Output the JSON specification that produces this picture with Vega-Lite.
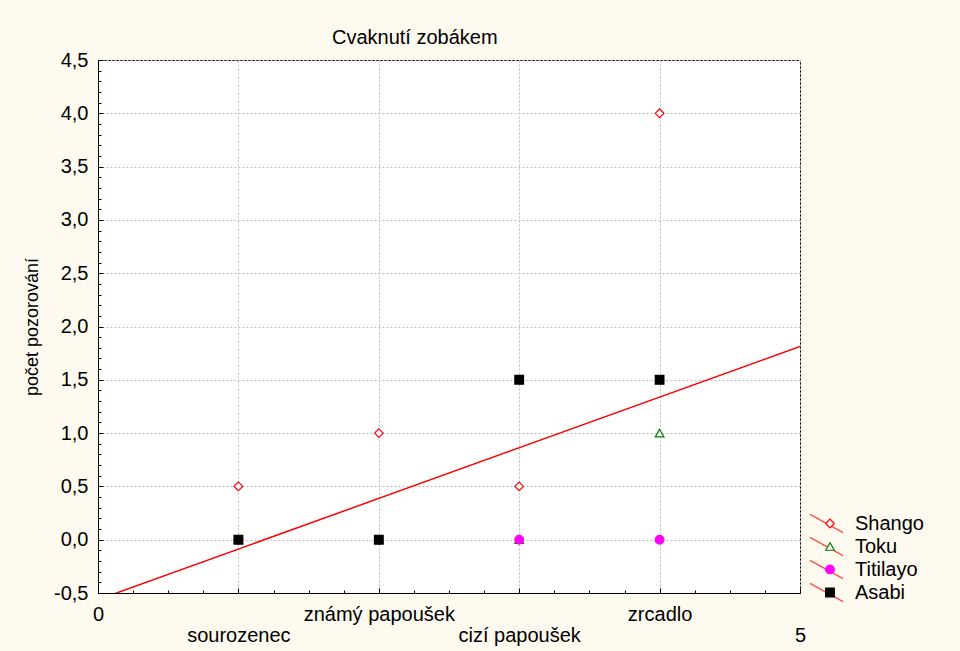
{
  "$schema": "https://vega.github.io/schema/vega-lite/v6.json",
  "width": 702,
  "height": 533,
  "autosize": {"type": "none"},
  "padding": {"left": 98, "top": 60, "right": 160, "bottom": 58},
  "background": "#fffaf0",
  "title": {
    "text": "Cvaknutí zobákem",
    "font": "Liberation Sans",
    "fontSize": 20,
    "fontWeight": "normal",
    "color": "#000000",
    "anchor": "start",
    "frame": "group",
    "dx": 234,
    "offset": 2
  },
  "config": {
    "font": "Liberation Sans",
    "view": {"stroke": "#000000", "strokeWidth": 1, "fill": "#ffffff"},
    "axis": {
      "domainColor": "#000000",
      "tickColor": "#000000",
      "labelColor": "#000000",
      "labelFont": "Liberation Sans",
      "labelFontSize": 20,
      "titleFont": "Liberation Sans",
      "titleFontSize": 18,
      "titleFontWeight": "normal",
      "titleColor": "#000000",
      "gridColor": "#bdbdbd",
      "gridDash": [2, 2],
      "labelOverlap": false,
      "labelFlush": false
    },
    "legend": {
      "labelFont": "Liberation Sans",
      "labelFontSize": 20,
      "labelColor": "#000000"
    }
  },
  "data": {
    "values": [
      {"poz": 1, "serie": "Shango", "pocet": 0.5},
      {"poz": 2, "serie": "Shango", "pocet": 1.0},
      {"poz": 3, "serie": "Shango", "pocet": 0.5},
      {"poz": 4, "serie": "Shango", "pocet": 4.0},
      {"poz": 1, "serie": "Toku", "pocet": 0},
      {"poz": 2, "serie": "Toku", "pocet": 0},
      {"poz": 3, "serie": "Toku", "pocet": 0},
      {"poz": 4, "serie": "Toku", "pocet": 1.0},
      {"poz": 1, "serie": "Titilayo", "pocet": 0},
      {"poz": 2, "serie": "Titilayo", "pocet": 0},
      {"poz": 3, "serie": "Titilayo", "pocet": 0},
      {"poz": 4, "serie": "Titilayo", "pocet": 0},
      {"poz": 1, "serie": "Asabi", "pocet": 0},
      {"poz": 2, "serie": "Asabi", "pocet": 0},
      {"poz": 3, "serie": "Asabi", "pocet": 1.5},
      {"poz": 4, "serie": "Asabi", "pocet": 1.5}
    ]
  },
  "encoding": {
    "x": {
      "field": "poz",
      "type": "quantitative",
      "scale": {"domain": [0, 5], "nice": false, "zero": false},
      "axis": {
        "title": null,
        "values": [0, 0.25, 0.5, 0.75, 1, 1.25, 1.5, 1.75, 2, 2.25, 2.5, 2.75, 3, 3.25, 3.5, 3.75, 4, 4.25, 4.5, 4.75, 5],
        "labelExpr": "datum.value == 0 ? '0' : datum.value == 1 ? 'sourozenec' : datum.value == 2 ? 'známý papoušek' : datum.value == 3 ? 'cizí papoušek' : datum.value == 4 ? 'zrcadlo' : datum.value == 5 ? '5' : ''",
        "labelPadding": {"condition": {"test": "datum.value == 1 || datum.value == 3 || datum.value == 5", "value": 37}, "value": 16},
        "tickSize": {"condition": {"test": "datum.value % 1 == 0", "value": -5}, "value": -3},
        "gridOpacity": {"condition": {"test": "datum.value % 1 == 0", "value": 1}, "value": 0},
        "grid": true
      }
    },
    "y": {
      "field": "pocet",
      "type": "quantitative",
      "scale": {"domain": [-0.5, 4.5], "nice": false, "zero": false},
      "axis": {
        "title": "počet pozorování",
        "titlePadding": 12,
        "values": [-0.5, -0.4, -0.3, -0.2, -0.1, 0, 0.1, 0.2, 0.3, 0.4, 0.5, 0.6, 0.7, 0.8, 0.9, 1, 1.1, 1.2, 1.3, 1.4, 1.5, 1.6, 1.7, 1.8, 1.9, 2, 2.1, 2.2, 2.3, 2.4, 2.5, 2.6, 2.7, 2.8, 2.9, 3, 3.1, 3.2, 3.3, 3.4, 3.5, 3.6, 3.7, 3.8, 3.9, 4, 4.1, 4.2, 4.3, 4.4, 4.5],
        "labelExpr": "abs(datum.value * 2 - round(datum.value * 2)) < 0.01 ? replace(replace(format(datum.value, '.1f'), '.', ','), '−', '-') : ''",
        "labelPadding": 15,
        "tickSize": {"condition": {"test": "abs(datum.value * 2 - round(datum.value * 2)) < 0.01", "value": -5}, "value": -3},
        "gridOpacity": {"condition": {"test": "abs(datum.value * 2 - round(datum.value * 2)) < 0.01", "value": 1}, "value": 0},
        "grid": true
      }
    }
  },
  "resolve": {"scale": {"shape": "independent", "stroke": "independent", "fill": "independent"}},
  "layer": [
    {
      "mark": {"type": "point", "filled": false, "color": "#ff0000", "strokeWidth": 1.3},
      "transform": [{"filter": "datum.pocet > 100"}],
      "encoding": {
        "shape": {
          "field": "serie",
          "type": "nominal",
          "scale": {"domain": ["Shango", "Toku", "Titilayo", "Asabi"], "range": ["M-1,-0.55L1,0.55", "M-1,-0.55L1,0.55", "M-1,-0.55L1,0.55", "M-1,-0.55L1,0.55"]},
          "legend": {"title": null, "orient": "none", "legendX": 711, "legendY": 452, "symbolSize": 1089, "clipHeight": 23, "rowPadding": 0, "symbolStrokeColor": "#ff0000", "symbolFillColor": "transparent", "symbolStrokeWidth": 1.3, "labelExpr": "''"}
        }
      }
    },
    {
      "mark": {"type": "line", "color": "#ff0000", "strokeWidth": 1.5, "clip": true},
      "transform": [{"regression": "pocet", "on": "poz", "extent": [0, 5]}],
      "encoding": {}
    },
    {
      "mark": {"type": "point", "filled": false, "opacity": 1, "strokeWidth": 1.2},
      "encoding": {
        "shape": {
          "field": "serie",
          "type": "nominal",
          "sort": ["Shango", "Toku", "Titilayo", "Asabi"],
          "scale": {"domain": ["Shango", "Toku", "Titilayo", "Asabi"], "range": ["diamond", "triangle-up", "circle", "square"]},
          "legend": {"title": null, "orient": "none", "legendX": 722, "legendY": 452, "symbolSize": 75, "clipHeight": 23, "rowPadding": 0, "labelOffset": 15, "symbolStrokeWidth": 1.2}
        },
        "stroke": {
          "field": "serie",
          "type": "nominal",
          "sort": ["Shango", "Toku", "Titilayo", "Asabi"],
          "scale": {"domain": ["Shango", "Toku", "Titilayo", "Asabi"], "range": ["#ff0000", "#008000", "#ff00ff", "#000000"]},
          "legend": {"title": null, "orient": "none", "legendX": 722, "legendY": 452}
        },
        "fill": {
          "field": "serie",
          "type": "nominal",
          "sort": ["Shango", "Toku", "Titilayo", "Asabi"],
          "scale": {"domain": ["Shango", "Toku", "Titilayo", "Asabi"], "range": ["#ffffff", "#ffffff", "#ff00ff", "#000000"]},
          "legend": {"title": null, "orient": "none", "legendX": 722, "legendY": 452}
        },
        "size": {"value": 75}
      }
    }
  ]
}
